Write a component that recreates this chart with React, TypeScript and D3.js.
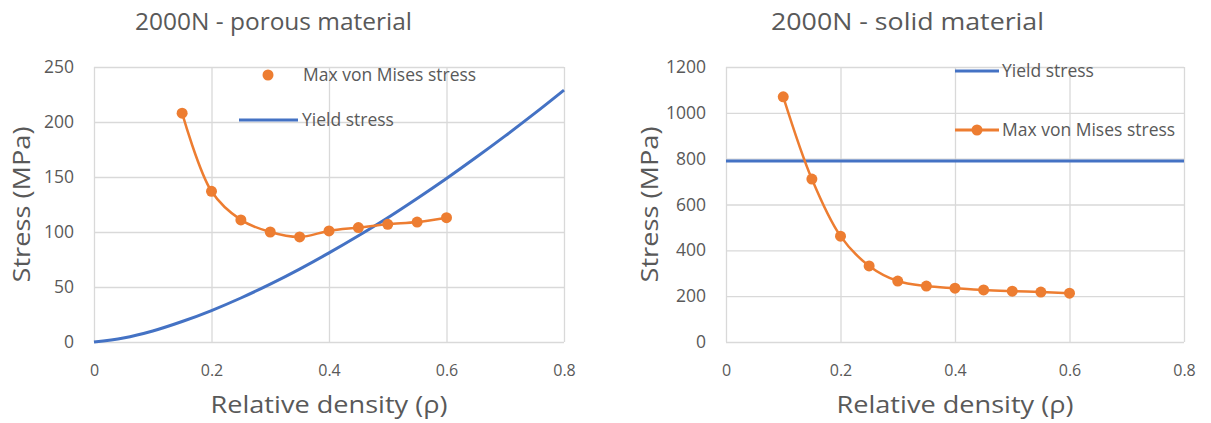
import * as d3 from "d3";
import { useEffect, useRef } from "react";

// porous chart
const densityPorous = [0.15, 0.2, 0.25, 0.3, 0.35, 0.4, 0.45, 0.5, 0.55, 0.6];
const vonMisesPorous = [208, 137, 111, 100, 95.5, 101, 104, 107, 109, 113];
const yieldDensityPorous = [0, 0.05, 0.1, 0.15, 0.2, 0.25, 0.3, 0.35, 0.4, 0.45, 0.5, 0.55, 0.6, 0.65, 0.7, 0.75, 0.8];
const yieldPorous = [0, 3.6, 10, 18.6, 28.6, 40, 52.6, 66.3, 81, 96.6, 113, 130.5, 148.7, 167.7, 187.4, 207.8, 229];

// solid chart
const densitySolid = [0.1, 0.15, 0.2, 0.25, 0.3, 0.35, 0.4, 0.45, 0.5, 0.55, 0.6];
const vonMisesSolid = [1070, 711, 462, 332, 266, 244, 235, 227, 222, 218, 213];
const yieldDensitySolid = [0, 0.8];
const yieldSolid = [790, 790];

const xTicks = [0, 0.2, 0.4, 0.6, 0.8];
const yTicksPorous = [0, 50, 100, 150, 200, 250];
const yTicksSolid = [0, 200, 400, 600, 800, 1000, 1200];

const ORANGE = "#ED7D31";
const BLUE = "#4472C4";
const GRID = "#D9D9D9";
const TEXT = "#595959";
const FONT = "'Open Sans', sans-serif";

type Series = { xs: number[]; ys: number[]; color: string; markers: boolean; width: number; smooth: boolean };
type LegendItem = { label: string; color: string; line: boolean; marker: boolean; x1: number; x2: number; y: number; tx: number };

type ChartProps = {
  left: number;
  right: number;
  top: number;
  bottom: number;
  yMax: number;
  yTicks: number[];
  title: string;
  titleX: number;
  titleLen: number;
  yLabelX: number;
  series: Series[];
  legend: LegendItem[];
};

const Chart = ({ left, right, top, bottom, yMax, yTicks, title, titleX, titleLen, yLabelX, series, legend }: ChartProps) => {
  const ref = useRef<SVGGElement>(null);

  useEffect(() => {
    const g = d3.select(ref.current);
    g.selectAll("*").remove();

    const x = d3.scaleLinear().domain([0, 0.8]).range([left, right]);
    const y = d3.scaleLinear().domain([0, yMax]).range([bottom, top]);

    // y grid + labels
    const yAxis = g.append("g")
      .attr("transform", `translate(${left},0)`)
      .call(d3.axisLeft(y).tickValues(yTicks).tickSize(-(right - left)).tickPadding(20).tickFormat(d3.format("d")));
    yAxis.select(".domain").remove();
    yAxis.selectAll("line").attr("stroke", GRID).attr("stroke-width", 1.3);
    yAxis.selectAll("text").attr("fill", TEXT).style("font-size", "17.5px").style("font-family", FONT);

    // x grid + labels
    const xAxis = g.append("g")
      .attr("transform", `translate(0,${bottom})`)
      .call(d3.axisBottom(x).tickValues(xTicks).tickSize(-(bottom - top)).tickPadding(23).tickFormat(d => String(d)));
    xAxis.select(".domain").remove();
    xAxis.selectAll("line").attr("stroke", GRID).attr("stroke-width", 1.3);
    xAxis.selectAll("text").attr("fill", TEXT).style("font-size", "16px").style("font-family", FONT);

    series.forEach(s => {
      const pts = s.xs.map((v, i) => [v, s.ys[i]] as [number, number]);
      const line = d3.line<[number, number]>()
        .x(d => x(d[0]))
        .y(d => y(d[1]))
        .curve(s.smooth ? d3.curveCatmullRom.alpha(0.5) : d3.curveLinear);
      g.append("path")
        .attr("d", line(pts))
        .attr("fill", "none")
        .attr("stroke", s.color)
        .attr("stroke-width", s.width);
      if (s.markers) {
        g.selectAll(null)
          .data(pts)
          .enter()
          .append("circle")
          .attr("cx", d => x(d[0]))
          .attr("cy", d => y(d[1]))
          .attr("r", 5.5)
          .attr("fill", s.color);
      }
    });

    // legend
    legend.forEach(l => {
      if (l.line) {
        g.append("line")
          .attr("x1", l.x1).attr("x2", l.x2)
          .attr("y1", l.y).attr("y2", l.y)
          .attr("stroke", l.color).attr("stroke-width", 3);
      }
      if (l.marker) {
        g.append("circle").attr("cx", (l.x1 + l.x2) / 2).attr("cy", l.y).attr("r", 5.5).attr("fill", l.color);
      }
      g.append("text")
        .attr("x", l.tx)
        .attr("y", l.y)
        .attr("dy", "0.35em")
        .attr("fill", TEXT)
        .style("font-size", "17.5px")
        .style("font-family", FONT)
        .text(l.label);
    });

    const bigText = (sel: d3.Selection<SVGTextElement, unknown, null, undefined>, len: number) =>
      sel.attr("text-anchor", "middle")
        .attr("fill", TEXT)
        .attr("textLength", len)
        .attr("lengthAdjust", "spacingAndGlyphs")
        .style("font-size", "23px")
        .style("font-family", FONT);

    bigText(g.append("text").attr("x", titleX).attr("y", 29.5).text(title), titleLen);
    bigText(g.append("text")
      .attr("transform", `translate(${yLabelX},${(top + bottom) / 2}) rotate(-90)`)
      .text("Stress (MPa)"), 156);
    bigText(g.append("text").attr("x", (left + right) / 2).attr("y", 412.5).text("Relative density (ρ)"), 237);
  }, [left, right, top, bottom, yMax, yTicks, title, titleX, titleLen, yLabelX, series, legend]);

  return <g ref={ref}></g>;
};

const porousSeries: Series[] = [
  { xs: yieldDensityPorous, ys: yieldPorous, color: BLUE, markers: false, width: 3, smooth: true },
  { xs: densityPorous, ys: vonMisesPorous, color: ORANGE, markers: true, width: 2.5, smooth: true },
];
const porousLegend: LegendItem[] = [
  { label: "Max von Mises stress", color: ORANGE, line: false, marker: true, x1: 239, x2: 297, y: 75, tx: 303 },
  { label: "Yield stress", color: BLUE, line: true, marker: false, x1: 239, x2: 298, y: 120, tx: 302 },
];
const solidSeries: Series[] = [
  { xs: yieldDensitySolid, ys: yieldSolid, color: BLUE, markers: false, width: 3, smooth: false },
  { xs: densitySolid, ys: vonMisesSolid, color: ORANGE, markers: true, width: 2.5, smooth: true },
];
const solidLegend: LegendItem[] = [
  { label: "Yield stress", color: BLUE, line: true, marker: false, x1: 955, x2: 999, y: 71, tx: 1002 },
  { label: "Max von Mises stress", color: ORANGE, line: true, marker: true, x1: 955, x2: 999, y: 130, tx: 1002 },
];

export default function App() {
  return (
    <div style={{ position: "absolute", left: 0, top: 0 }}>
      <svg width={1211} height={423} style={{ display: "block", background: "#fff" }}>
        <Chart left={94} right={564} top={67} bottom={342} yMax={250} yTicks={yTicksPorous}
          title="2000N - porous material" titleX={273.5} titleLen={277} yLabelX={29.5}
          series={porousSeries} legend={porousLegend} />
        <Chart left={726} right={1184} top={67} bottom={342} yMax={1200} yTicks={yTicksSolid}
          title="2000N - solid material" titleX={907.5} titleLen={273} yLabelX={658}
          series={solidSeries} legend={solidLegend} />
      </svg>
    </div>
  );
}
